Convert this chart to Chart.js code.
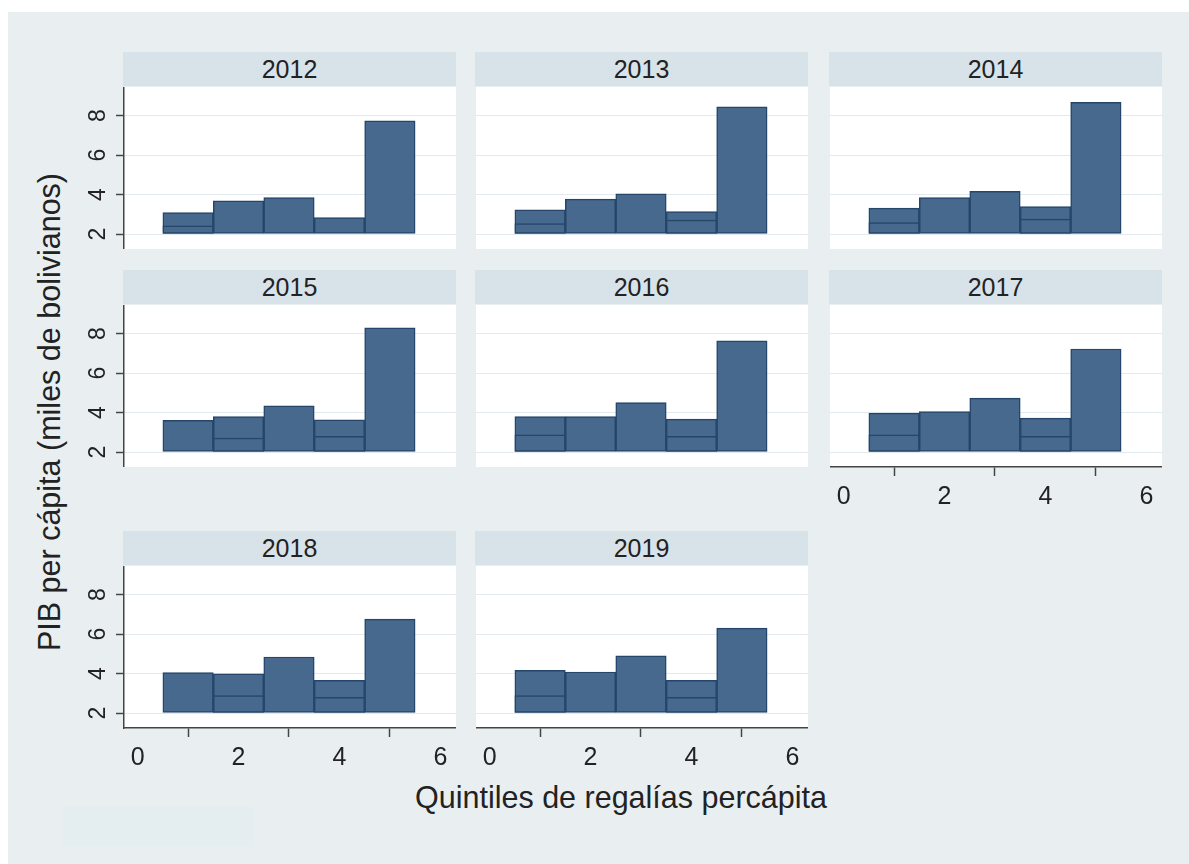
<!DOCTYPE html>
<html lang="es">
<head>
<meta charset="utf-8">
<title>PIB per cápita por quintiles de regalías</title>
<script src="https://cdn.jsdelivr.net/npm/chart.js@4.4.1/dist/chart.umd.min.js"></script>
<style>
  html, body { margin: 0; padding: 0; background: #fff; }
  body { width: 1189px; height: 864px; position: relative; overflow: hidden; font-family: "Liberation Sans", Arial, sans-serif; }
  #fondo { position: absolute; left: 8px; top: 12px; right: 0; bottom: 0; background: #e9eff1; }
  #nota { position: absolute; left: 63px; top: 807px; width: 190px; height: 40px; background: #e4edf0; }
  .franja { position: absolute; height: 34px; line-height: 35px; background: #d8e3e9; text-align: center; font-size: 25px; color: #222; }
  .lienzo { position: absolute; }
  #tituloY { position: absolute; left: -251px; top: 394px; width: 600px; height: 36px; line-height: 36px; text-align: center; font-size: 30.5px; color: #222; transform: rotate(-90deg); }
  #tituloX { position: absolute; left: 321px; top: 779px; width: 600px; height: 36px; line-height: 36px; text-align: center; font-size: 30.5px; color: #222; }
</style>
</head>
<body>
<div id="fondo"></div>
<div id="nota"></div>
<div id="tituloY">PIB per cápita (miles de bolivianos)</div>
<div id="tituloX">Quintiles de regalías percápita</div>

<script>
// datos (miles de bolivianos)
const anios = ["2012", "2013", "2014", "2015", "2016", "2017", "2018", "2019"];
const quintiles = [1, 2, 3, 4, 5];
const ticksX = [0, 2, 4, 6];
const ticksY = [2, 4, 6, 8];

// barra exterior de cada quintil
const pib2012 = [3.09, 3.68, 3.85, 2.83, 7.73];
const pib2013 = [3.22, 3.77, 4.03, 3.14, 8.44];
const pib2014 = [3.31, 3.85, 4.16, 3.39, 8.67];
const pib2015 = [3.60, 3.80, 4.34, 3.63, 8.29];
const pib2016 = [3.80, 3.80, 4.51, 3.67, 7.64];
const pib2017 = [3.97, 4.05, 4.73, 3.72, 7.22];
const pib2018 = [4.05, 3.99, 4.84, 3.65, 6.76];
const pib2019 = [4.16, 4.08, 4.90, 3.65, 6.30];

// barra interior (la linea que se ve dentro de algunas barras)
const interno2012 = [2.42, null, null, null, null];
const interno2013 = [2.53, null, null, 2.71, null];
const interno2014 = [2.58, null, null, 2.75, null];
const interno2015 = [null, 2.71, null, 2.79, null];
const interno2016 = [2.87, null, null, 2.79, null];
const interno2017 = [2.87, null, null, 2.79, null];
const interno2018 = [null, 2.88, null, 2.80, null];
const interno2019 = [2.88, null, null, 2.80, null];

const series = [pib2012, pib2013, pib2014, pib2015, pib2016, pib2017, pib2018, pib2019];
const internos = [interno2012, interno2013, interno2014, interno2015, interno2016, interno2017, interno2018, interno2019];

// disposicion de los paneles
const columnasX = [124, 476, 830];
const filasY = [87, 305, 566];
const anchoPanel = 332;
const altoPanel = 162;
const anchoEjeY = 70;
const altoEjeX = 46;

const colorBarra = "#46698d";
const colorBorde = "#24466a";
const colorEje = "#444";

Chart.defaults.font.family = '"Liberation Sans", Arial, sans-serif';
Chart.defaults.color = "#222";

const fondoBlanco = {
  id: "fondoBlanco",
  beforeDraw(chart) {
    const a = chart.chartArea;
    const ctx = chart.ctx;
    ctx.save();
    ctx.fillStyle = "#fff";
    ctx.fillRect(a.left, a.top, a.right - a.left, a.bottom - a.top);
    ctx.restore();
  }
};

// etiquetas del eje Y giradas, como en Stata
const etiquetasGiradas = {
  id: "etiquetasGiradas",
  afterDraw(chart, args, opts) {
    if (!opts.activo) return;
    const escala = chart.scales.y;
    const ctx = chart.ctx;
    ctx.save();
    ctx.font = '23px "Liberation Sans", Arial, sans-serif';
    ctx.fillStyle = "#222";
    ctx.textAlign = "center";
    ctx.textBaseline = "middle";
    escala.ticks.forEach(t => {
      const y = escala.getPixelForValue(t.value);
      ctx.save();
      ctx.translate(chart.chartArea.left - 25, y);
      ctx.rotate(-Math.PI / 2);
      ctx.fillText(String(t.value), 0, 0);
      ctx.restore();
    });
    ctx.restore();
  }
};

anios.forEach((anio, i) => {
  const col = i % 3;
  const fila = Math.floor(i / 3);
  const conEjeY = col === 0;
  const conEjeX = i >= 5;
  const izq = columnasX[col];
  const arriba = filasY[fila];

  const franja = document.createElement("div");
  franja.className = "franja";
  franja.style.left = (izq - 1) + "px";
  franja.style.top = (arriba - 35) + "px";
  franja.style.width = (anchoPanel + 1) + "px";
  franja.textContent = anio;
  document.body.appendChild(franja);

  const canvas = document.createElement("canvas");
  canvas.className = "lienzo";
  const ancho = anchoPanel + (conEjeY ? anchoEjeY : 0);
  const alto = altoPanel + (conEjeX ? altoEjeX : 0);
  canvas.width = ancho;
  canvas.height = alto;
  canvas.style.left = (izq - (conEjeY ? anchoEjeY : 0)) + "px";
  canvas.style.top = arriba + "px";
  canvas.style.width = ancho + "px";
  canvas.style.height = alto + "px";
  document.body.appendChild(canvas);

  const barraComun = {
    base: 2,
    backgroundColor: colorBarra,
    borderColor: colorBorde,
    borderWidth: 1.5,
    borderSkipped: false,
    grouped: false,
    barPercentage: 1,
    categoryPercentage: 1
  };

  new Chart(canvas.getContext("2d"), {
    type: "bar",
    data: {
      datasets: [
        { ...barraComun, label: "PIB", order: 2, data: quintiles.map((q, k) => ({ x: q, y: series[i][k] })) },
        { ...barraComun, label: "interno", order: 1, data: quintiles.map((q, k) => ({ x: q, y: internos[i][k] })) }
      ]
    },
    options: {
      responsive: false,
      animation: false,
      devicePixelRatio: 1,
      layout: { padding: 0 },
      plugins: {
        legend: { display: false },
        tooltip: { enabled: false },
        etiquetasGiradas: { activo: conEjeY }
      },
      scales: {
        x: {
          type: "linear",
          min: -0.27,
          max: 6.31,
          offset: false,
          display: conEjeX,
          afterBuildTicks: s => { s.ticks = ticksX.map(v => ({ value: v })); },
          afterFit: s => { s.height = conEjeX ? altoEjeX : 0; },
          ticks: { font: { size: 25 }, color: "#222", padding: 6, maxRotation: 0, autoSkip: false },
          grid: { drawOnChartArea: false, drawTicks: true, tickLength: 9, tickColor: colorEje, tickWidth: 1.5 },
          border: { display: true, color: colorEje, width: 1.5 }
        },
        y: {
          type: "linear",
          min: 1.24,
          max: 9.45,
          afterBuildTicks: s => { s.ticks = ticksY.map(v => ({ value: v })); },
          afterFit: s => { s.width = conEjeY ? anchoEjeY : 0; },
          ticks: { display: false },
          grid: { color: "#e3eaee", lineWidth: 1, drawTicks: conEjeY, tickLength: 8, tickColor: colorEje, tickWidth: 1.5 },
          border: { display: conEjeY, color: colorEje, width: 1.5 }
        }
      }
    },
    plugins: [fondoBlanco, etiquetasGiradas]
  });
});
</script>
</body>
</html>
